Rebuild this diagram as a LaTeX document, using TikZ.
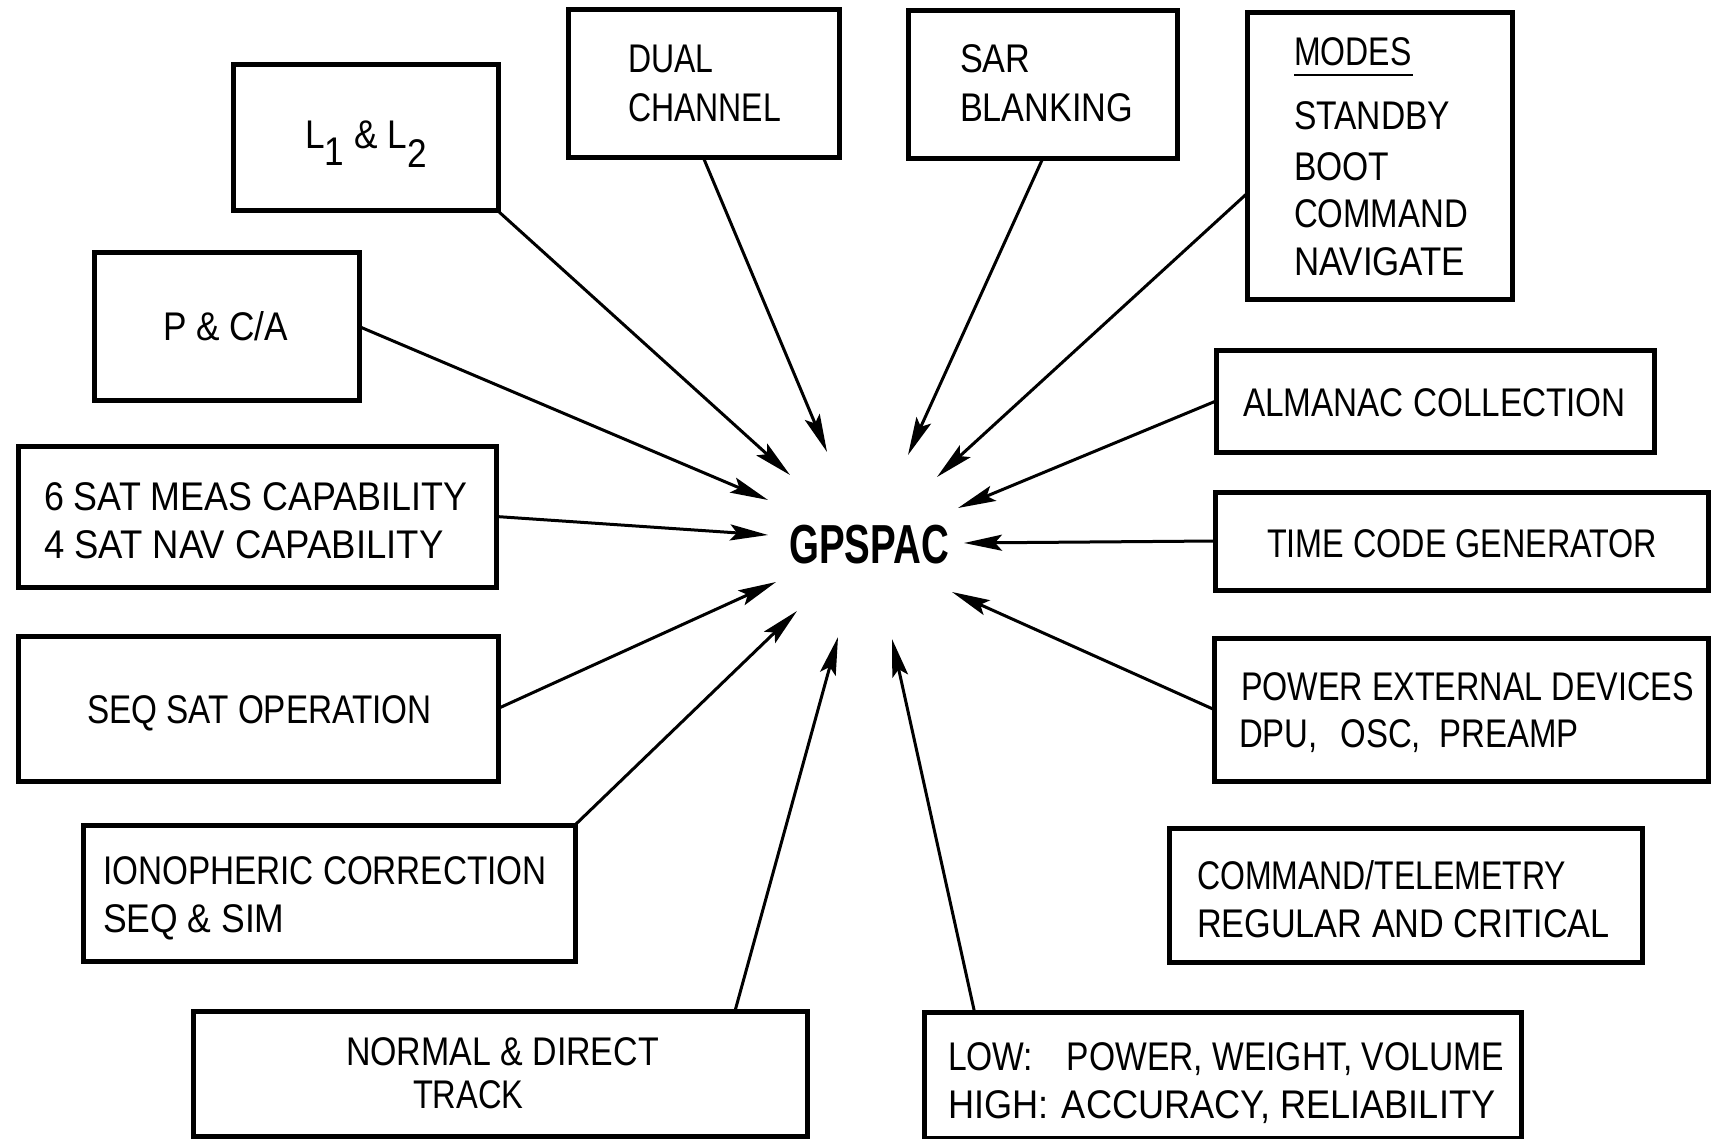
\documentclass[tikz,border=0pt]{standalone}
\usepackage{graphicx}
\usepackage{fontspec}
\setmainfont{Liberation Sans}[FakeStretch=0.8]
\newfontfamily\gpsfont{Liberation Sans}[FakeStretch=0.7]
\usetikzlibrary{arrows.meta}
\newcommand\hsc[2]{\scalebox{#1}[1]{#2}}
\begin{document}
\begin{tikzpicture}[x=1pt,y=-1pt,
  box/.style={draw, line width=5pt, inner sep=0pt, outer sep=0pt},
  txt/.style={anchor=base west, inner sep=0pt, outer sep=0pt, font=\fontsize{40}{48}\selectfont},
  arr/.style={line width=3pt, -{Stealth[length=38pt,width=16pt,inset=7pt]}}]
\fill[white] (0,0) rectangle (1712,1139);
\useasboundingbox (0,0) rectangle (1712,1139);

% boxes
\node[box, minimum width=265pt, minimum height=146pt] (l1) at (365.5,138) {};
\node[box, minimum width=271pt, minimum height=148pt] (dual) at (703.5,84) {};
\node[box, minimum width=269pt, minimum height=148pt] (sar) at (1042.5,85) {};
\node[box, minimum width=265pt, minimum height=287pt] (modes) at (1379.5,156.5) {};
\node[box, minimum width=265pt, minimum height=147pt] (pca) at (226.5,326.5) {};
\node[box, minimum width=478pt, minimum height=141pt] (six) at (257,516.5) {};
\node[box, minimum width=438pt, minimum height=102pt] (alm) at (1435,401) {};
\node[box, minimum width=493pt, minimum height=98pt] (time) at (1461.5,541) {};
\node[box, minimum width=480pt, minimum height=145pt] (seq) at (258,708.5) {};
\node[box, minimum width=494pt, minimum height=143pt] (pow) at (1461,709.5) {};
\node[box, minimum width=492pt, minimum height=136pt] (iono) at (329,893) {};
\node[box, minimum width=473pt, minimum height=134pt] (cmd) at (1405.5,895) {};
\node[box, minimum width=614pt, minimum height=125pt] (normal) at (500,1073.5) {};
\node[box, minimum width=597pt, minimum height=126pt] (low) at (1222.5,1075) {};

% texts
\node[txt] (l1t) at (305,149) {\hsc{1.1}{L\raisebox{-17pt}{1}\kern9pt\&\kern9pt L\raisebox{-19pt}{2}}};
\node[txt] (dualt1) at (628,73) {DUAL};
\node[txt] (dualt2) at (628,122) {CHANNEL};
\node[txt] (sart1) at (960,73) {\hsc{1.07}{SAR}};
\node[txt] (sart2) at (960,122) {\hsc{1.07}{BLANKING}};
\node[txt] (modest) at (1294,66) {MODES};
\draw[line width=2.5pt] ([yshift=-9pt]modest.base west) -- ([yshift=-9pt,xshift=2pt]modest.base east);
\node[txt] (modes1) at (1294,130) {\hsc{1.05}{STANDBY}};
\node[txt] (modes2) at (1294,181) {\hsc{1.05}{BOOT}};
\node[txt] (modes3) at (1294,228) {\hsc{1.03}{COMMAND}};
\node[txt] (modes4) at (1294,276) {\hsc{1.09}{NAVIGATE}};
\node[txt] (pcat) at (163,341) {\hsc{1.1}{P \& C/A}};
\node[txt] (sixt1) at (44,510) {\hsc{1.12}{6 SAT MEAS CAPABILITY}};
\node[txt] (sixt2) at (44,558) {\hsc{1.14}{4 SAT NAV CAPABILITY}};
\node[txt] (almt) at (1243,416) {\hsc{1.04}{ALMANAC COLLECTION}};
\node[txt] (timet) at (1267,557) {\hsc{1.01}{TIME CODE GENERATOR}};
\node[txt] (seqt) at (87,723) {\hsc{1.04}{SEQ SAT OPERATION}};
\node[txt] (powt1) at (1241,700) {\hsc{1.01}{POWER EXTERNAL DEVICES}};
\node[txt] (powt2) at (1239,747) {\hsc{1.03}{DPU,\hspace{22pt}OSC,\hspace{18pt}PREAMP}};
\node[txt] (ionot1) at (103,884) {\hsc{1.04}{IONOPHERIC CORRECTION}};
\node[txt] (ionot2) at (103,932) {\hsc{1.11}{SEQ \& SIM}};
\node[txt] (cmdt1) at (1197,889) {COMMAND/TELEMETRY};
\node[txt] (cmdt2) at (1197,937) {\hsc{1.07}{REGULAR AND CRITICAL}};
\node[txt] (normalt1) at (346,1065) {\hsc{1.06}{NORMAL \& DIRECT}};
\node[txt] (normalt2) at (413,1108) {\hsc{1.02}{TRACK}};
\node[txt] (lowt1) at (948,1070) {\hsc{1.05}{LOW:\hspace{32pt}POWER, WEIGHT, VOLUME}};
\node[txt] (lowt2) at (948,1118) {\hsc{1.13}{HIGH:\hspace{12pt}ACCURACY, RELIABILITY}};

% centre
\node[inner sep=0pt, font=\gpsfont\bfseries\fontsize{55}{55}\selectfont] (gps) at (869,545) {GPSPAC};

% arrow tips
\coordinate (t1) at (790,475);
\coordinate (t2) at (827,452);
\coordinate (t3) at (908,455);
\coordinate (t4) at (937,477);
\coordinate (t5) at (958,508);
\coordinate (t6) at (964,543);
\coordinate (t7) at (952,592);
\coordinate (t8) at (892,639);
\coordinate (t9) at (838,637);
\coordinate (t10) at (797,611);
\coordinate (t11) at (776,582);
\coordinate (t12) at (768,535);
\coordinate (t13) at (768,500);

\draw[arr] (l1.south east) -- (t1);
\draw[arr] (dual.south) -- (t2);
\draw[arr] (sar.south) -- (t3);
\draw[arr] ([yshift=-37pt]modes.west) -- (t4);
\draw[arr] (alm.west) -- (t5);
\draw[arr] (time.west) -- (t6);
\draw[arr] (pow.west) -- (t7);
\draw[arr] ([xshift=-248pt]low.north) -- (t8);
\draw[arr] ([xshift=235pt]normal.north) -- (t9);
\draw[arr] (iono.north east) -- (t10);
\draw[arr] (seq.east) -- (t11);
\draw[arr] (six.east) -- (t12);
\draw[arr] (pca.east) -- (t13);
\end{tikzpicture}
\end{document}
